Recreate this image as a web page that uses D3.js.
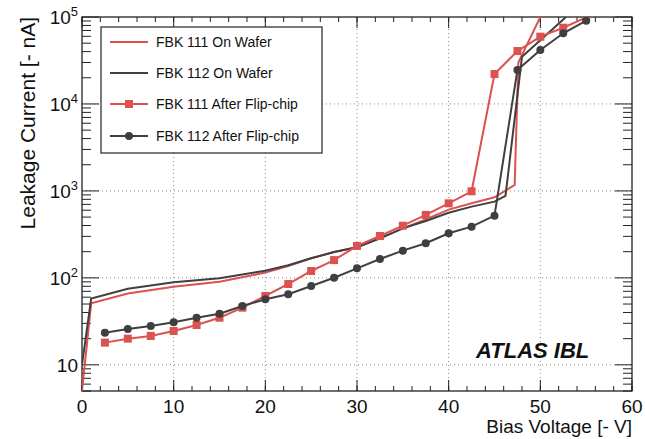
<!DOCTYPE html>
<html>
<head>
<meta charset="utf-8">
<script src="https://cdn.jsdelivr.net/npm/d3@7"></script>
<style>
    body { margin: 0; background: #fff; }
    text { font-family: "Liberation Sans", Arial, sans-serif; fill: #111; }
</style>
</head>
<body>
<svg id="chart" width="645" height="439"></svg>
<script>
//
// DATA
//
// FBK 111 / 112 measured on wafer (bias [-V], current [-nA])
const wafer111V = [0, 1, 5, 10, 15, 20, 22.5, 25, 27.5, 30, 32.5, 35, 37.5, 40, 42.5, 45, 47.2, 47.6, 50]
const wafer111I = [5, 51, 66, 79, 90, 115, 137, 168, 198, 225, 285, 371, 471, 610, 720, 845, 1170, 30000, 100000]
const wafer112V = [0, 1, 5, 10, 15, 20, 22.5, 25, 27.5, 30, 32.5, 35, 37.5, 40, 42.5, 45, 46.2, 48, 52.8]
const wafer112I = [10, 58, 75, 89, 99, 121, 140, 168, 198, 225, 285, 371, 451, 560, 660, 752, 875, 35000, 100000]
// after flip-chip
const flipV = [2.5, 5, 7.5, 10, 12.5, 15, 17.5, 20, 22.5, 25, 27.5, 30, 32.5, 35, 37.5, 40, 42.5, 45, 47.5, 50, 52.5, 55]
const flip111I = [18, 20, 21.5, 24.5, 28.7, 34.8, 45.4, 62, 85, 120, 160, 233, 303, 398, 529, 720, 990, 22100, 40600, 59400, 75300, 99000]
const flip112I = [23.4, 25.8, 28, 30.8, 34.8, 38.7, 47.5, 56.7, 64.7, 80.7, 100.4, 128.8, 165, 205.6, 250, 326, 388, 519, 24600, 41700, 65000, 90700]
// axes
const xTicks = [0, 10, 20, 30, 40, 50, 60]
const xMinor = d3.range(0, 61, 2)
const yTicks = [10, 100, 1000, 10000, 100000]
const legendNames = ['FBK 111 On Wafer', 'FBK 112 On Wafer', 'FBK 111 After Flip-chip', 'FBK 112 After Flip-chip']

const red = '#db5250'
const grey = '#3f3f3f'

const svg = d3.select('#chart')
const pLeft = 82, pRight = 632, pTop = 17, pBottom = 391

const x = d3.scaleLinear().domain([0, 60]).range([pLeft, pRight])
const y = d3.scaleLog().domain([5, 1e5]).range([pBottom, pTop])

const pairs = (vs, is) => vs.map((v, i) => [v, is[i]])
const series = [
    { data: pairs(wafer111V, wafer111I), color: red, marker: null },
    { data: pairs(wafer112V, wafer112I), color: grey, marker: null },
    { data: pairs(flipV, flip111I), color: red, marker: 'square' },
    { data: pairs(flipV, flip112I), color: grey, marker: 'circle' }
]

// grid (dotted)
const grid = svg.append('g').attr('stroke', '#888').attr('stroke-width', 1).attr('stroke-dasharray', '1,3')
grid.selectAll(null)
    .data(xTicks.slice(1, -1))
    .enter()
    .append('line')
    .attr('x1', d => x(d)).attr('x2', d => x(d))
    .attr('y1', pTop).attr('y2', pBottom)
grid.selectAll(null)
    .data(yTicks.slice(0, -1))
    .enter()
    .append('line')
    .attr('x1', pLeft).attr('x2', pRight)
    .attr('y1', d => y(d)).attr('y2', d => y(d))

// minor log ticks
const yMinor = []
for (let e = 0; e < 5; e++) for (let m = 2; m <= 9; m++) {
    const v = m * Math.pow(10, e)
    if (v >= 5 && v < 1e5) yMinor.push(v)
}

// ticks on all four sides, pointing inwards
const axes = svg.append('g').attr('stroke', '#222').attr('stroke-width', 1)
const addTicks = (vals, len, side) => {
    const horiz = side === 'b' || side === 't'
    axes.selectAll(null)
        .data(vals)
        .enter()
        .append('line')
        .attr('x1', d => horiz ? x(d) : side === 'l' ? pLeft : pRight)
        .attr('x2', d => horiz ? x(d) : side === 'l' ? pLeft + len : pRight - len)
        .attr('y1', d => !horiz ? y(d) : side === 'b' ? pBottom : pTop)
        .attr('y2', d => !horiz ? y(d) : side === 'b' ? pBottom - len : pTop + len)
}
addTicks(xTicks, 11, 'b')
addTicks(xMinor, 5, 'b')
addTicks(xTicks, 11, 't')
addTicks(xMinor, 5, 't')
addTicks(yTicks, 17, 'l')
addTicks(yMinor, 9, 'l')
addTicks(yTicks, 17, 'r')
addTicks(yMinor, 9, 'r')

// frame
svg.append('rect')
    .attr('x', pLeft).attr('y', pTop)
    .attr('width', pRight - pLeft).attr('height', pBottom - pTop)
    .attr('fill', 'none').attr('stroke', '#222').attr('stroke-width', 1.3)

// tick labels
svg.selectAll(null)
    .data(xTicks)
    .enter()
    .append('text')
    .attr('x', d => x(d))
    .attr('y', 413)
    .attr('text-anchor', 'middle')
    .style('font-size', '19px')
    .text(d => d)

const yl = svg.selectAll(null)
    .data(yTicks)
    .enter()
    .append('text')
    .attr('x', 78)
    .attr('y', d => y(d) + 7)
    .attr('text-anchor', 'end')
    .style('font-size', '19px')
yl.append('tspan').text('10')
yl.filter(d => d > 10)
    .append('tspan')
    .attr('dy', -8)
    .style('font-size', '13px')
    .text(d => Math.round(Math.log10(d)))

// axis titles
svg.append('text')
    .attr('x', 632).attr('y', 433)
    .attr('text-anchor', 'end')
    .style('font-size', '19px')
    .text('Bias Voltage [- V]')
svg.append('text')
    .attr('transform', 'translate(35,17) rotate(-90)')
    .attr('text-anchor', 'end')
    .style('font-size', '21px')
    .text('Leakage Current [- nA]')

// data
svg.append('clipPath').attr('id', 'plotClip')
    .append('rect')
    .attr('x', pLeft).attr('y', pTop)
    .attr('width', pRight - pLeft).attr('height', pBottom - pTop)

const line = d3.line().x(d => x(d[0])).y(d => y(d[1]))
const plot = svg.append('g').attr('clip-path', 'url(#plotClip)')

const drawMarker = (g, type, color, cx, cy) => {
    if (type === 'square')
        g.append('rect').attr('x', cx - 4).attr('y', cy - 4).attr('width', 8).attr('height', 8).attr('fill', color)
    else if (type === 'circle')
        g.append('circle').attr('cx', cx).attr('cy', cy).attr('r', 4).attr('fill', color)
}

series.forEach(s => {
    plot.append('path')
        .attr('d', line(s.data))
        .attr('fill', 'none')
        .attr('stroke', s.color)
        .attr('stroke-width', 2)
    if (s.marker) s.data.forEach(d => drawMarker(plot, s.marker, s.color, x(d[0]), y(d[1])))
})

// legend
const legend = svg.append('g')
legend.append('rect')
    .attr('x', 101).attr('y', 27)
    .attr('width', 221).attr('height', 126)
    .attr('fill', '#fff').attr('stroke', '#333').attr('stroke-width', 1.3)
const rowY = [42, 73, 104, 136]
series.forEach((s, i) => {
    legend.append('line')
        .attr('x1', 110).attr('x2', 148)
        .attr('y1', rowY[i]).attr('y2', rowY[i])
        .attr('stroke', s.color).attr('stroke-width', 2)
    if (s.marker) drawMarker(legend, s.marker, s.color, 129, rowY[i])
    legend.append('text')
        .attr('x', 156).attr('y', rowY[i] + 5)
        .style('font-size', '14px')
        .text(legendNames[i])
})

svg.append('text')
    .attr('x', 476).attr('y', 358)
    .style('font-size', '22px')
    .style('font-weight', 'bold')
    .style('font-style', 'italic')
    .text('ATLAS IBL')
</script>
</body>
</html>
